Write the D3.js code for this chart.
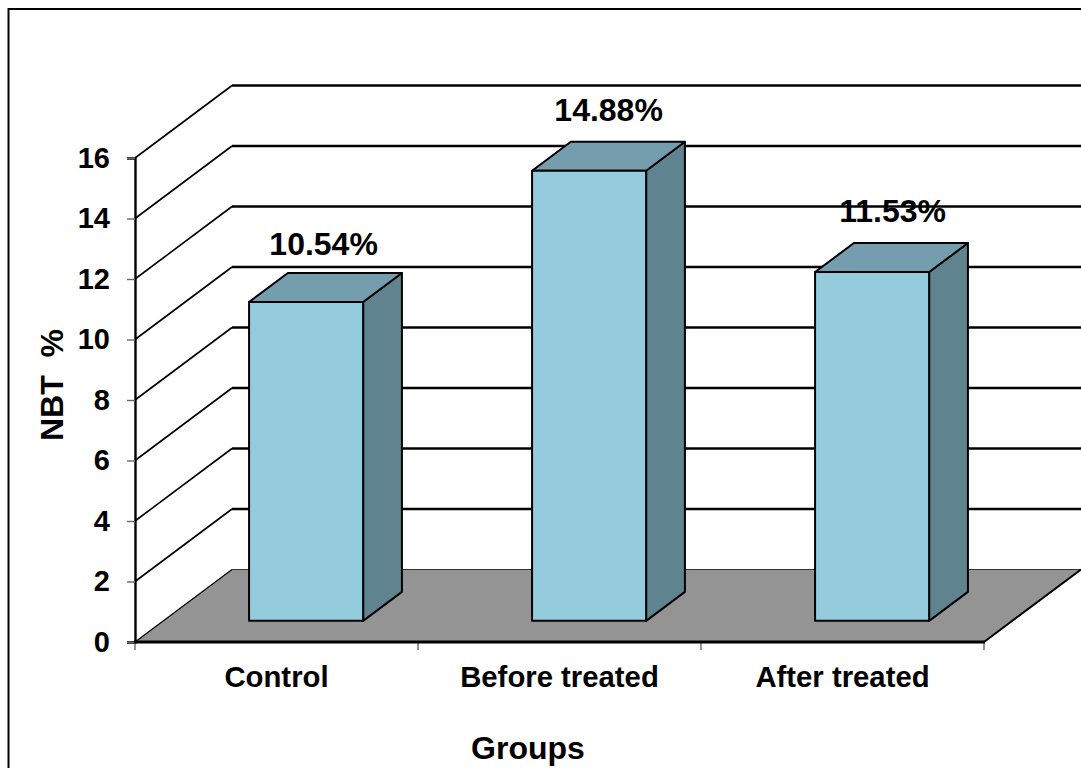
<!DOCTYPE html>
<html>
<head>
<meta charset="utf-8">
<script src="https://cdn.jsdelivr.net/npm/d3@7"></script>
<style>
  html, body { margin: 0; padding: 0; background: #fff; overflow: hidden; }
  text { font-family: "Liberation Sans", Arial, sans-serif; font-weight: bold; fill: #000; }
</style>
</head>
<body>
<svg id="chart" width="1081" height="768"></svg>
<script>
// NBT % per group
const categories = ["Control", "Before treated", "After treated"];
const values = [10.54, 14.88, 11.53];
const valueLabels = ["10.54%", "14.88%", "11.53%"];
const yTicks = [0, 2, 4, 6, 8, 10, 12, 14, 16];

const width = 1081, height = 768;
const svg = d3.select("#chart");

// Front plane of the pseudo-3D box
const x = d3.scaleBand().domain(categories).range([135, 984]).paddingInner(0).paddingOuter(0);
const y = d3.scaleLinear().domain([0, 16]).range([642, 158]);

// Oblique projection: depth 0 is the front edge, 1 the back wall
const depthX = 97, depthY = -72.5;
const project = (px, py, d) => [px + depthX * d, py + depthY * d];
const barFront = 0.3, barBack = 0.7;
const barWidth = x.bandwidth() * 0.403;

const poly = pts => "M" + pts.map(p => p.join(",")).join("L") + "Z";
const line = d3.line();

// Chart frame
svg.append("rect")
  .attr("x", 8.5).attr("y", 9)
  .attr("width", width + 20).attr("height", height + 20)
  .attr("fill", "#fff").attr("stroke", "#000").attr("stroke-width", 2);

// Floor
const [x0, x1] = x.range();
svg.append("path")
  .attr("d", poly([[x0, y(0)], project(x0, y(0), 1), project(x1, y(0), 1), [x1, y(0)]]))
  .attr("fill", "#949494");

// Grid lines along the left wall and the back wall
const gridTicks = yTicks.filter(t => t > 0);
svg.append("g").selectAll("path").data(gridTicks).join("path")
  .attr("d", t => line([[x0, y(t)], project(x0, y(t), 1)]))
  .attr("fill", "none").attr("stroke", "#000").attr("stroke-width", 1.6);
svg.append("g").selectAll("path").data(gridTicks).join("path")
  .attr("d", t => line([project(x0, y(t), 1), project(x1, y(t), 1)]))
  .attr("fill", "none").attr("stroke", "#000").attr("stroke-width", 2.5);

// Floor edges
svg.append("path")
  .attr("d", line([[x0, y(0)], project(x0, y(0), 1)]))
  .attr("fill", "none").attr("stroke", "#000").attr("stroke-width", 1.2);
svg.append("path")
  .attr("d", line([project(x0, y(0), 1), project(x1, y(0), 1)]))
  .attr("fill", "none").attr("stroke", "#333").attr("stroke-width", 1.2);
svg.append("path")
  .attr("d", line([[x1, y(0)], project(x1, y(0), 1)]))
  .attr("fill", "none").attr("stroke", "#000").attr("stroke-width", 2);

// Value axis
const yAxis = svg.append("g")
  .attr("transform", `translate(${x0},0)`)
  .call(d3.axisLeft(y).tickValues(yTicks).tickSize(8).tickPadding(17).tickFormat(d3.format("d")));
yAxis.select(".domain").attr("stroke", "#000").attr("stroke-width", 2.4);
yAxis.selectAll(".tick line").attr("stroke", "#666").attr("stroke-width", 1.4);
yAxis.selectAll("text").attr("font-size", 29).style("font-family", "'Liberation Sans', Arial, sans-serif").style("font-weight", "bold");

// Category axis: ticks sit between the bands
const xAxisLine = svg.append("g");
xAxisLine.selectAll("line").data(d3.range(categories.length + 1)).join("line")
  .attr("x1", i => x0 + i * x.step()).attr("x2", i => x0 + i * x.step())
  .attr("y1", y(0)).attr("y2", y(0) + 8)
  .attr("stroke", "#666").attr("stroke-width", 1.4);
xAxisLine.append("line")
  .attr("x1", x0 - 1).attr("x2", x1 + 1).attr("y1", y(0)).attr("y2", y(0))
  .attr("stroke", "#000").attr("stroke-width", 3);
svg.append("g").selectAll("text").data(categories).join("text")
  .attr("x", d => x(d) + x.bandwidth() / 2)
  .attr("y", 687)
  .attr("text-anchor", "middle")
  .attr("font-size", 29.3)
  .text(d => d);

// Bars: front, top and side faces
const bars = svg.append("g").selectAll("g").data(categories.map((c, i) => ({ c, v: values[i], label: valueLabels[i], i }))).join("g");
const corners = d => {
  const cx = x(d.c) + x.bandwidth() / 2 + depthX * barFront + 0.5;
  const left = cx - barWidth / 2, right = cx + barWidth / 2;
  const base = y(0) + depthY * barFront + 0.6, top = y(d.v) + depthY * barFront + 0.6;
  return { left, right, base, top, dx: depthX * (barBack - barFront) , dy: depthY * (barBack - barFront) };
};
const applyEdge = sel => sel.attr("stroke", "#000").attr("stroke-width", 2).attr("stroke-linejoin", "round");

bars.append("path").attr("fill", "#5F8490").call(applyEdge).attr("d", d => {
  const c = corners(d);
  return poly([[c.right, c.base], [c.right, c.top], [c.right + c.dx, c.top + c.dy], [c.right + c.dx, c.base + c.dy]]);
});
bars.append("path").attr("fill", "#749DAD").call(applyEdge).attr("d", d => {
  const c = corners(d);
  return poly([[c.left, c.top], [c.left + c.dx, c.top + c.dy], [c.right + c.dx, c.top + c.dy], [c.right, c.top]]);
});
bars.append("path").attr("fill", "#94CCDE").call(applyEdge).attr("d", d => {
  const c = corners(d);
  return poly([[c.left, c.base], [c.left, c.top], [c.right, c.top], [c.right, c.base]]);
});

// Value labels above each bar, with a small hand placement for each one
const labelNudge = [[-1, 1], [1, -1], [2, -2]];
bars.append("text")
  .attr("x", d => corners(d).left + barWidth / 2 + 18.5 + labelNudge[d.i][0])
  .attr("y", d => corners(d).top - 48.5 + labelNudge[d.i][1])
  .attr("text-anchor", "middle")
  .attr("font-size", 32)
  .text(d => d.label);

// Axis titles
svg.append("text")
  .attr("x", 528).attr("y", 759)
  .attr("text-anchor", "middle").attr("font-size", 32)
  .text("Groups");
svg.append("text")
  .attr("transform", "translate(63,385) rotate(-90)")
  .attr("text-anchor", "middle").attr("font-size", 32)
  .attr("xml:space", "preserve")
  .text("NBT  %");
</script>
</body>
</html>
